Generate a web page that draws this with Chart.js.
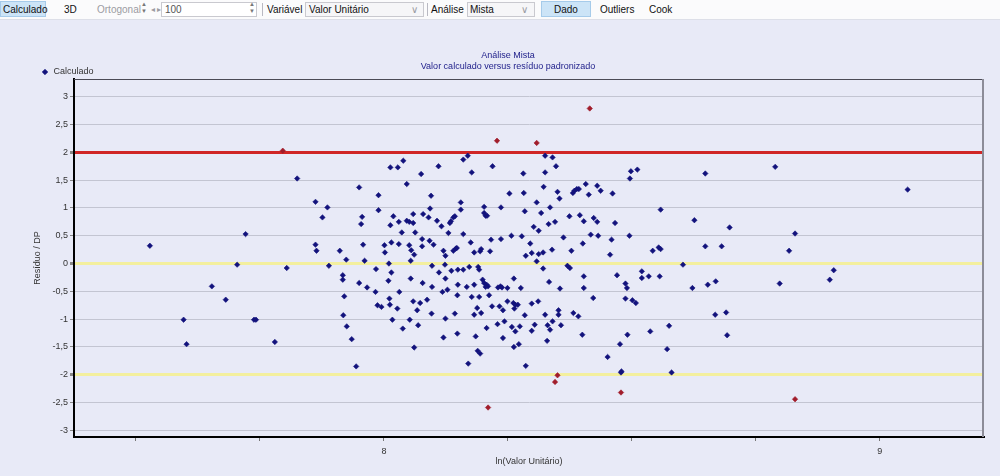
<!DOCTYPE html>
<html><head><meta charset="utf-8">
<script src="https://cdn.jsdelivr.net/npm/chart.js@4.4.1/dist/chart.umd.min.js"></script>
<style>
html,body{margin:0;padding:0;width:1000px;height:476px;overflow:hidden;background:#E8EAF7;font-family:"Liberation Sans",Arial,sans-serif;}
#c{position:absolute;left:0;top:0;}
#tb{position:absolute;left:0;top:0;width:1000px;height:19px;background:#FBFBFC;border-bottom:1px solid #DDDFE8;font-size:10px;color:#111;}
.t{position:absolute;top:3px;white-space:nowrap;line-height:13px;}
.btn{position:absolute;top:1px;height:16px;background:#CCE4F7;border:1px solid #A6CBEA;box-sizing:border-box;}
.box{position:absolute;top:2px;height:15px;background:#fff;border:1px solid #C9C9CF;box-sizing:border-box;}
.sep{position:absolute;top:3px;width:1px;height:13px;background:#B9B9C2;}
.g{color:#9C9CA2;}
.arr{font-size:8px;color:#777;}
</style></head>
<body>
<canvas id="c" width="1000" height="476"></canvas>
<div id="tb">
  <div class="btn" style="left:0;width:46px"></div>
  <div class="t" style="left:3px">Calculado</div>
  <div class="t" style="left:64px">3D</div>
  <div class="t g" style="left:97px">Ortogonal</div>
  <div class="t arr" style="left:141px;top:1px;line-height:7px;font-size:6px">▲<br>▼</div>
  <div class="t g" style="left:151px;font-size:8px">◂ ▸</div>
  <div class="box" style="left:161px;width:96px"></div>
  <div class="t" style="left:165px;color:#555">100</div>
  <div class="t arr" style="left:249px;top:1px;line-height:7px;font-size:6px">▲<br>▼</div>
  <div class="sep" style="left:262px"></div>
  <div class="t" style="left:267px">Variável</div>
  <div class="box" style="left:305px;width:119px;background:#F6F6F8"></div>
  <div class="t" style="left:309px">Valor Unitário</div>
  <div class="t g" style="left:411px">∨</div>
  <div class="sep" style="left:427px"></div>
  <div class="t" style="left:431px">Análise</div>
  <div class="box" style="left:467px;width:68px;background:#F6F6F8"></div>
  <div class="t" style="left:470px">Mista</div>
  <div class="t g" style="left:521px">∨</div>
  <div class="btn" style="left:541px;width:50px"></div>
  <div class="t" style="left:554px">Dado</div>
  <div class="t" style="left:600px">Outliers</div>
  <div class="t" style="left:649px">Cook</div>
</div>
<script>
const seriesName = 'Calculado';
const titleLines = ['Análise Mista', 'Valor calculado versus resíduo padronizado'];
const xAxisTitle = 'ln(Valor Unitário)';
const yAxisTitle = 'Resíduo / DP';

const xValues = [
7.528,7.596,7.602,7.721,7.796,7.825,7.862,7.886,7.876,7.862,7.864,7.911,7.924,7.950,7.989,7.989,7.956,7.954,7.958,7.961,
8.013,8.028,8.019,8.013,8.030,8.001,8.015,8.002,8.030,8.010,7.704,7.889,7.804,7.984,8.015,7.917,7.917,7.950,7.966,7.983,
8.009,8.031,7.653,7.681,7.738,7.742,7.780,7.920,7.918,7.925,7.935,7.944,7.987,7.995,8.011,8.012,8.027,8.017,
8.415,8.228,8.308,8.169,8.160,8.325,8.340,8.039,8.110,8.219,8.347,8.177,8.325,8.075,8.281,8.511,8.498,8.496,8.046,8.407,
8.430,8.437,8.413,8.322,8.381,8.384,8.389,8.393,8.461,8.350,8.354,8.253,8.282,8.095,8.093,8.155,8.155,8.202,8.236,8.308,
8.335,8.284,8.079,8.090,8.059,8.046,8.051,8.059,8.107,8.116,8.135,8.140,8.143,8.133,8.202,8.205,8.208,8.036,8.063,8.130,
8.160,8.302,8.312,8.317,8.332,8.345,8.374,8.395,8.403,8.423,8.430,8.466,8.257,8.278,8.236,8.362,8.417,8.432,8.495,8.459,
8.077,8.092,8.051,8.077,8.100,8.175,8.216,8.295,8.401,8.055,8.061,8.120,8.124,8.140,8.145,8.147,8.182,8.194,8.196,8.214,
8.286,8.298,8.312,8.321,8.339,8.378,8.456,8.308,8.054,
8.097,8.123,8.136,8.149,8.160,8.172,8.190,8.192,8.111,8.054,8.078,8.097,8.124,8.128,8.118,8.149,8.167,8.182,8.199,8.202,
8.207,8.210,8.205,8.230,8.235,8.238,8.249,8.262,8.276,8.321,8.333,8.355,8.370,8.375,8.403,8.403,8.422,8.470,8.487,8.490,
8.487,8.501,8.508,8.059,8.073,8.087,8.067,8.096,8.052,8.069,8.038,8.061,8.124,8.143,8.148,8.177,8.192,8.188,8.182,8.196,
8.212,8.218,8.233,8.240,8.249,8.261,8.265,8.270,8.263,8.243,8.229,8.207,8.258,8.274,8.265,8.284,8.298,8.311,8.304,8.298,
8.325,8.340,8.330,8.335,8.352,8.352,8.357,8.382,8.392,8.400,8.329,8.240,8.262,8.272,8.185,8.148,8.120,8.189,8.194,8.170,
8.286,8.210,8.350,8.345,8.478,8.478,8.479,8.476,8.491,8.451,
8.648,8.789,9.056,8.558,8.626,8.697,8.829,8.542,8.554,8.558,8.648,8.681,8.817,8.603,8.520,8.520,8.534,8.556,8.622,8.653,
8.669,8.798,8.907,8.899,8.668,8.690,8.575,8.537,8.692,8.571,8.580,8.829
];
const yValues = [
0.32,-1.01,-1.45,0.53,2.03,1.53,1.11,1.01,0.83,0.34,0.23,0.23,0.07,1.37,1.23,0.96,0.84,0.71,0.34,0.05,
1.73,1.73,0.85,0.69,0.75,0.33,0.38,0.20,0.35,0.00,-0.02,-0.04,-0.08,-0.10,-0.16,-0.21,-0.29,-0.35,-0.43,-0.51,
-0.31,-0.51,-0.41,-0.65,-1.01,-1.01,-1.41,-0.59,-0.93,-1.13,-1.36,-1.85,-0.75,-0.78,-0.63,-0.74,-0.81,-1.01,
2.79,2.21,2.17,1.94,1.87,1.94,1.91,1.85,1.75,1.75,1.75,1.64,1.64,1.61,1.62,1.69,1.66,1.53,1.43,1.43,
1.40,1.31,1.24,1.38,1.27,1.31,1.34,1.34,1.26,1.29,1.17,1.26,1.27,1.22,0.99,1.10,0.97,1.02,1.01,1.10,
1.01,0.94,0.89,0.83,0.89,0.77,0.75,0.73,0.77,0.67,0.76,0.83,0.85,0.73,0.91,0.86,0.86,0.56,0.56,0.55,
0.53,0.66,0.59,0.91,0.71,0.75,0.85,0.87,0.76,0.82,0.75,0.73,0.50,0.49,0.44,0.47,0.52,0.50,0.50,0.43,
0.44,0.41,0.33,0.31,0.34,0.38,0.43,0.36,0.36,0.24,0.16,0.23,0.14,0.23,0.27,0.28,0.20,0.22,0.26,0.22,
0.14,0.19,0.17,0.20,0.25,0.23,0.16,0.04,0.05,
-0.04,-0.02,-0.13,-0.11,-0.11,-0.06,-0.06,-0.11,-0.16,-0.27,-0.35,-0.42,-0.27,-0.47,-0.51,-0.38,-0.42,-0.38,-0.29,-0.35,
-0.38,-0.41,-0.42,-0.43,-0.41,-0.43,-0.44,-0.27,-0.44,-0.09,-0.33,-0.45,-0.04,-0.08,-0.23,-0.44,-0.62,-0.21,-0.36,-0.44,
-0.63,-0.66,-0.71,-0.68,-0.71,-0.65,-0.84,-0.90,-1.01,-1.11,-1.17,-1.51,-0.99,-0.90,-0.57,-0.60,-0.60,-0.80,-0.92,-0.89,
-0.57,-0.77,-0.77,-0.84,-0.68,-0.71,-0.74,-0.74,-0.81,-1.04,-1.09,-1.16,-1.14,-1.13,-1.22,-0.93,-0.72,-0.68,-1.10,-1.21,
-0.92,-1.04,-1.11,-1.19,-0.84,-0.92,-1.11,-0.89,-0.95,-1.28,-1.39,-1.34,-1.50,-1.45,-1.31,-1.26,-1.33,-1.57,-1.62,-1.80,
-1.84,-2.59,-2.01,-2.13,-2.32,-1.96,-1.94,-1.45,-1.28,-1.68,
1.62,1.74,1.33,0.97,0.78,0.65,0.54,0.23,0.29,0.26,0.31,0.31,0.23,-0.02,-0.14,-0.26,-0.23,-0.23,-0.44,-0.38,
-0.32,-0.36,-0.12,-0.29,-0.92,-0.88,-1.12,-1.22,-1.29,-1.54,-1.96,-2.44
];

const yTickValues = [-3,-2.5,-2,-1.5,-1,-0.5,0,0.5,1,1.5,2,2.5,3];
const xTickValues = [7.5,7.75,8,8.25,8.5,8.75,9];
const xLabelledTicks = [8,9];
const upperLimit = 2;
const referenceLines = [0,-2];
const yRange = [-3.12, 3.32];
const xRange = [7.375, 9.21];

const BLUE = '#12127C', RED = '#A11D2B';
const FONT = '"Liberation Sans", Arial, sans-serif';
Chart.defaults.font.family = FONT;

const points = xValues.map((x, i) => ({x: x, y: yValues[i]}));
const colorOf = c => (c.raw && Math.abs(c.raw.y) > upperLimit) ? RED : BLUE;

const framePlugin = {
  id: 'frame',
  beforeDatasetsDraw(chart) {
    const {ctx, chartArea: a} = chart;
    ctx.save();
    ctx.strokeStyle = '#4A4A55'; ctx.lineWidth = 1;
    ctx.beginPath(); ctx.moveTo(a.left, a.top + 0.5); ctx.lineTo(a.right, a.top + 0.5); ctx.stroke();
    ctx.strokeStyle = '#8C8C98'; ctx.lineWidth = 2;
    ctx.beginPath(); ctx.moveTo(a.right - 1, a.top); ctx.lineTo(a.right - 1, a.bottom); ctx.stroke();
    ctx.restore();
  }
};

new Chart(document.getElementById('c'), {
  type: 'scatter',
  data: {
    datasets: [{
      label: seriesName,
      data: points,
      pointStyle: 'rectRot',
      pointRadius: 2.7,
      pointHoverRadius: 2.7,
      borderWidth: 0.6,
      pointBackgroundColor: colorOf,
      pointBorderColor: colorOf,
      backgroundColor: BLUE,
      borderColor: BLUE
    }]
  },
  options: {
    responsive: false,
    animation: false,
    devicePixelRatio: 1,
    layout: {padding: {top: 0, left: 32, right: 16, bottom: 0}},
    plugins: {
      tooltip: {enabled: false},
      title: {
        display: true, text: titleLines, color: '#22228C',
        font: {size: 9, weight: 'normal', lineHeight: 1.2},
        padding: {top: 50.6, bottom: -13.7}
      },
      legend: {
        display: true, position: 'top', align: 'start', maxHeight: 20.5,
        labels: {usePointStyle: true, boxWidth: 8, boxHeight: 4, padding: 9, color: '#333', font: {size: 9}}
      }
    },
    scales: {
      x: {
        type: 'linear', min: xRange[0], max: xRange[1],
        afterBuildTicks: s => { s.ticks = xTickValues.map(v => ({value: v})); },
        afterFit: s => { s.height = 39; },
        ticks: {autoSkip: false, maxRotation: 0, padding: 5, color: '#333', font: {size: 9},
                callback: v => xLabelledTicks.includes(v) ? String(v) : ''},
        grid: {drawOnChartArea: false, drawTicks: true, tickLength: 4, tickColor: '#777'},
        border: {color: '#000', width: 2},
        title: {display: true, text: xAxisTitle, color: '#333', font: {size: 9}, padding: {top: 0, bottom: 8.6}}
      },
      y: {
        type: 'linear', min: yRange[0], max: yRange[1],
        afterBuildTicks: s => { s.ticks = yTickValues.map(v => ({value: v})); },
        afterFit: s => { s.width = 42; },
        ticks: {autoSkip: false, padding: 2, color: '#333', font: {size: 9},
                callback: v => String(v).replace('.', ',')},
        grid: {
          drawTicks: true, tickLength: 4, tickColor: '#888',
          color: c => c.tick.value === upperLimit ? '#D02626' : (referenceLines.includes(c.tick.value) ? '#F3EF9E' : '#C3C5D2'),
          lineWidth: c => (c.tick.value === upperLimit || referenceLines.includes(c.tick.value)) ? 3 : 1
        },
        border: {color: '#000', width: 2},
        title: {display: true, text: yAxisTitle, color: '#333', font: {size: 9}, padding: {top: 0, bottom: 0}}
      }
    }
  },
  plugins: [framePlugin]
});
</script>
</body></html>
